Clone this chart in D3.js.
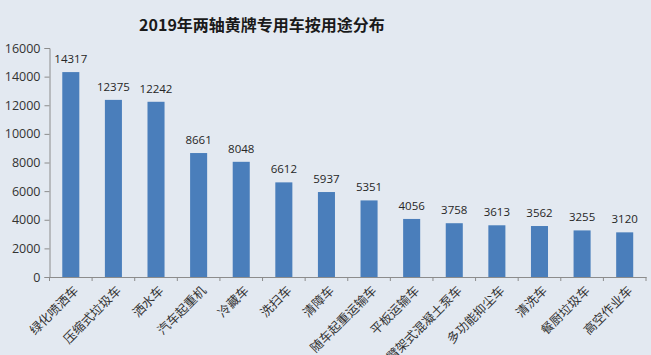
<!DOCTYPE html>
<html><head><meta charset="utf-8">
<script src="https://cdn.jsdelivr.net/npm/d3@7"></script>
<style>
html,body{margin:0;padding:0;background:#e3e9f1;}
svg{display:block;}
</style></head>
<body>
<svg id="chart" width="651" height="355"></svg>
<script>
const title = "2019年两轴黄牌专用车按用途分布";
const categories = ["绿化喷洒车","压缩式垃圾车","洒水车","汽车起重机","冷藏车","洗扫车","清障车","随车起重运输车","平板运输车","臂架式混凝土泵车","多功能抑尘车","清洗车","餐厨垃圾车","高空作业车"];
const values = [14317,12375,12242,8661,8048,6612,5937,5351,4056,3758,3613,3562,3255,3120];
const yTicks = [0,2000,4000,6000,8000,10000,12000,14000,16000];

(function(){
const svg = d3.select("#chart");
svg.append("rect").attr("width",651).attr("height",355).attr("fill","#e3e9f1");

const mLeft = 49.5, mRight = 646, mTop = 48, mBottom = 277;
const x = d3.scaleBand().domain(categories).range([mLeft, mRight]).paddingInner(0.6).paddingOuter(0.3);
const y = d3.scaleLinear().domain([0,16000]).range([mBottom, mTop]);

svg.append("text").attr("x",262).attr("y",31).attr("text-anchor","middle")
  .attr("font-family","'Noto Sans CJK SC', sans-serif").attr("font-weight","bold")
  .attr("font-size",16).attr("fill","#1a1a1a").text(title);

// y axis
const ya = svg.append("g").attr("transform",`translate(${mLeft},0)`)
  .call(d3.axisLeft(y).tickValues(yTicks).tickFormat(d3.format("d")).tickSize(5).tickPadding(4));
ya.select(".domain").attr("stroke","#8c8c8c");
ya.selectAll(".tick line").attr("stroke","#8c8c8c");
ya.selectAll(".tick text").attr("font-family","'Open Sans', 'Noto Sans', sans-serif").attr("font-size",12.5).attr("fill","#333");

// x axis
const xa = svg.append("g").attr("transform",`translate(0,${mBottom})`)
  .call(d3.axisBottom(x).tickSize(0).tickFormat(""));
xa.select(".domain").attr("stroke","#8c8c8c");
const step = x.step();
const boundaries = d3.range(categories.length+1).map(i => mLeft + i*step);
xa.selectAll(".bnd").data(boundaries).enter().append("line")
  .attr("x1",d=>d).attr("x2",d=>d).attr("y1",0).attr("y2",4).attr("stroke","#8c8c8c");

// bars
svg.selectAll(".bar").data(values).enter().append("rect")
  .attr("x",(d,i)=>x(categories[i])).attr("width",x.bandwidth())
  .attr("y",d=>y(d)).attr("height",d=>mBottom-y(d)).attr("fill","#4a7ebb");

// value labels
svg.selectAll(".val").data(values).enter().append("text")
  .attr("x",(d,i)=>x(categories[i])+x.bandwidth()/2).attr("y",d=>y(d)-9)
  .attr("text-anchor","middle").attr("font-family","'Open Sans', 'Noto Sans', sans-serif")
  .attr("font-size",11.5).attr("fill","#262626").text(d=>d);

// category labels
svg.selectAll(".cat").data(categories).enter().append("text")
  .attr("transform",(d)=>`translate(${x(d)+x.bandwidth()/2+6},${mBottom+12}) rotate(-45)`)
  .attr("text-anchor","end").attr("dominant-baseline","middle")
  .attr("font-family","'Noto Sans CJK SC', sans-serif").attr("font-size",12.5).attr("fill","#333")
  .text(d=>d);
})();
</script>
</body></html>
